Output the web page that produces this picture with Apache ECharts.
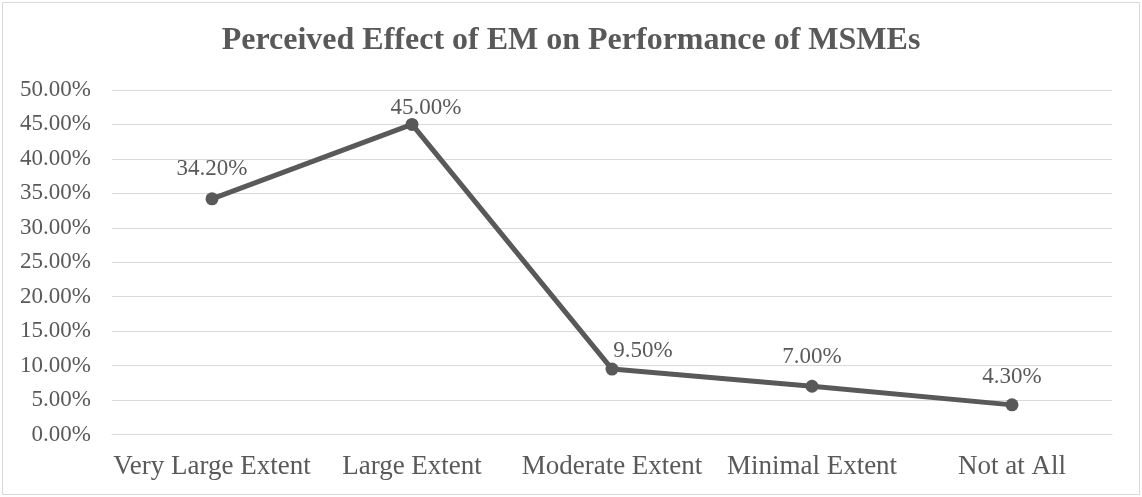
<!DOCTYPE html>
<html>
<head>
<meta charset="utf-8">
<style>
  html, body { margin: 0; padding: 0; background: #ffffff; }
  #chart { width: 1142px; height: 497px; }
</style>
<script src="https://cdn.jsdelivr.net/npm/echarts@6/dist/echarts.min.js"></script>
</head>
<body>
<div id="chart"></div>
<script>
// Survey responses: perceived effect of EM on MSME performance (percent)
const categories = ['Very Large Extent', 'Large Extent', 'Moderate Extent', 'Minimal Extent', 'Not at All'];
const shares = [34.2, 45.0, 9.5, 7.0, 4.3];
const chartTitle = 'Perceived Effect of EM on Performance of MSMEs';

const serif = "'Liberation Serif', 'Times New Roman', Times, serif";
const ink = '#595959';
const rule = '#d9d9d9';

// Per-point nudges for the value labels, in pixels [dx, dy]
const labelNudge = [[0, 1], [14, 15], [31, 13], [0, 2], [0, 3]];

const chart = echarts.init(document.getElementById('chart'), null, { renderer: 'canvas' });

chart.setOption({
  backgroundColor: '#ffffff',
  animation: false,
  title: {
    text: chartTitle,
    left: 'center',
    top: 25,
    padding: 0,
    textStyle: { fontFamily: serif, fontSize: 32, fontWeight: 'bold', color: ink }
  },
  graphic: [{
    type: 'rect',
    shape: { x: 2.5, y: 2.5, width: 1137, height: 492 },
    style: { fill: 'none', stroke: rule, lineWidth: 1 },
    silent: true
  }],
  grid: { left: 112, right: 30, top: 90, bottom: 62.5, containLabel: false },
  xAxis: {
    type: 'category',
    data: categories,
    boundaryGap: true,
    axisLine: { show: true, lineStyle: { color: rule, width: 1 } },
    axisTick: { show: false },
    axisLabel: { fontFamily: serif, fontSize: 27, color: ink, margin: 19, interval: 0 }
  },
  yAxis: {
    type: 'value',
    min: 0,
    max: 50,
    interval: 5,
    axisLine: { show: false },
    axisTick: { show: false },
    splitLine: { lineStyle: { color: rule, width: 1 } },
    axisLabel: {
      fontFamily: serif, fontSize: 23, color: ink, margin: 21,
      formatter: v => v.toFixed(2) + '%'
    }
  },
  series: [{
    type: 'line',
    data: shares.map((v, i) => ({
      value: v,
      label: { offset: labelNudge[i] }
    })),
    symbol: 'circle',
    symbolSize: 13,
    lineStyle: { color: ink, width: 5 },
    itemStyle: { color: ink },
    label: {
      show: true,
      position: 'top',
      distance: 13,
      fontFamily: serif,
      fontSize: 23,
      color: ink,
      formatter: p => p.value.toFixed(2) + '%'
    }
  }]
});
</script>
</body>
</html>
